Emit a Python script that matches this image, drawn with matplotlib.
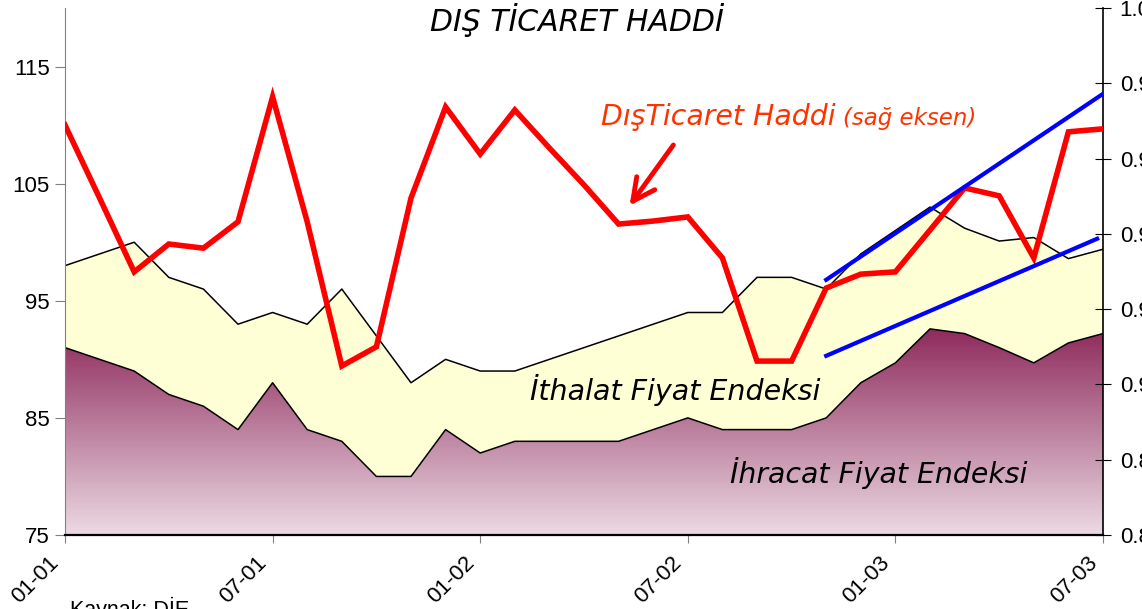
import numpy as np
import matplotlib
matplotlib.use("Agg")
import matplotlib.pyplot as plt
from matplotlib.patches import Polygon
from matplotlib.colors import LinearSegmentedColormap
from matplotlib.transforms import ScaledTranslation

# ---- data (monthly, 01-2001 .. 07-2003) ----
tick_labels = ["01-01", "07-01", "01-02", "07-02", "01-03", "07-03"]
ithalat = [98, 99, 100, 97, 96, 93, 94, 93, 96, 92, 88, 90, 89, 89, 90, 91, 92, 93,
           94, 94, 97, 97, 96, 99, 101, 103, 101.2, 100.1, 100.4, 98.6, 99.4]
ihracat = [91, 90, 89, 87, 86, 84, 88, 84, 83, 80, 80, 84, 82, 83, 83, 83, 83, 84,
           85, 84, 84, 84, 85, 88, 89.7, 92.6, 92.2, 91.0, 89.7, 91.4, 92.2]
dis_ticaret_haddi = [0.9689, 0.9495, 0.9299, 0.9373, 0.9362, 0.9432, 0.9764, 0.9432,
                     0.9049, 0.9100, 0.9495, 0.9737, 0.9612, 0.9729, 0.9628, 0.9530,
                     0.9426, 0.9434, 0.9445, 0.9336, 0.9062, 0.9062, 0.9256, 0.9293,
                     0.9299, 0.9410, 0.9522, 0.9501, 0.9336, 0.9671, 0.9679]
trend_upper_x = [22, 30]
trend_upper_y = [0.9278, 0.9772]
trend_lower_x = [22, 29.83]
trend_lower_y = [0.9076, 0.9387]

x = np.arange(len(ithalat))

fig = plt.figure(figsize=(11.42, 6.09), dpi=100)
ax = fig.add_axes([65/1142, 74/609, 1038/1142, 527/609])

# export area with vertical gradient
cmap = LinearSegmentedColormap.from_list("g", ["#ecdae4", "#8e2a5c"])
verts = [(x[0], 75)] + list(zip(x, ihracat)) + [(x[-1], 75)]
clip = Polygon(verts, closed=True, facecolor="none", edgecolor="none",
               transform=ax.transData)
ax.add_patch(clip)
grad = np.linspace(0, 1, 256).reshape(-1, 1)
im = ax.imshow(grad, extent=[x[0], x[-1], 75, max(ihracat)], origin="lower",
               aspect="auto", cmap=cmap, zorder=1)
im.set_clip_path(clip)

# import area
ax.fill_between(x, ihracat, ithalat, facecolor="#ffffd6", edgecolor="none", zorder=1)
ax.plot(x, ithalat, color="black", lw=1.1, zorder=2)
ax.plot(x, ihracat, color="black", lw=1.1, zorder=2)

ax.set_xlim(x[0], x[-1])
ax.set_ylim(75, 120)
ax.set_yticks([75, 85, 95, 105, 115])
ax.set_xticks(x[::6])
ax.tick_params(axis="y", direction="out", length=7, color="#808080", pad=4)
ax.tick_params(axis="x", direction="out", length=6, color="#808080", pad=12)
ax.set_xticklabels(tick_labels, rotation=45, ha="right", va="center",
                   rotation_mode="anchor")
for lbl in ax.get_xticklabels() + ax.get_yticklabels():
    lbl.set_fontfamily("Liberation Sans")
    lbl.set_fontsize(16)
shift = ScaledTranslation(-9/100, 0, fig.dpi_scale_trans)
for lbl in ax.get_xticklabels():
    lbl.set_transform(lbl.get_transform() + shift)
ax.spines["top"].set_visible(False)
ax.spines["right"].set_visible(False)
ax.spines["left"].set_color("#808080")
ax.spines["bottom"].set_linewidth(1.6)

# right axis
ax2 = ax.twinx()
ax2.set_ylim(0.86, 1.00)
ax2.set_yticks(np.arange(0.86, 1.001, 0.02))
ax2.tick_params(axis="y", direction="inout", length=12, color="black", pad=6)
ax2.set_yticklabels(["%.2f" % v for v in np.arange(0.86, 1.001, 0.02)],
                    fontfamily="Liberation Sans", fontsize=16)
for s in ["top", "left", "bottom"]:
    ax2.spines[s].set_visible(False)
ax2.spines["right"].set_linewidth(1.2)

ax2.plot(x, dis_ticaret_haddi, color="#ff0000", lw=4, solid_joinstyle="miter", zorder=3)
ax2.plot(trend_upper_x, trend_upper_y, color="#0000ff", lw=3, zorder=4)
ax2.plot(trend_lower_x, trend_lower_y, color="#0000ff", lw=3, zorder=4)
ax2.annotate("", xy=(16.27, 0.9469), xytext=(17.63, 0.9642),
             arrowprops=dict(arrowstyle="->,head_length=1.6,head_width=0.8",
                             color="#ff0000", lw=3.5))

# texts
fig.text(577/1142, 1 - 20/609, "DIŞ TİCARET HADDİ", ha="center", va="center",
         fontsize=21.5, style="italic", family="DejaVu Sans")
fig.text(601/1142, 1 - 117/609, "DışTicaret Haddi", ha="left", va="center",
         fontsize=20.4, style="italic", family="DejaVu Sans", color="#ff3300")
fig.text(843/1142, 1 - 119/609, "(sağ eksen)", ha="left", va="center",
         fontsize=16.5, style="italic", family="DejaVu Sans", color="#ff3300")
fig.text(530/1142, 1 - 390/609, "İthalat Fiyat Endeksi", ha="left", va="center",
         fontsize=20.5, style="italic", family="DejaVu Sans", color="black")
fig.text(730/1142, 1 - 473/609, "İhracat Fiyat Endeksi", ha="left", va="center",
         fontsize=20.4, style="italic", family="DejaVu Sans", color="black")
fig.text(70/1142, 1 - 597/609, "Kaynak: DİE", ha="left", va="top",
         fontsize=15.5, family="Liberation Sans")

fig.savefig("out.png", dpi=100)
